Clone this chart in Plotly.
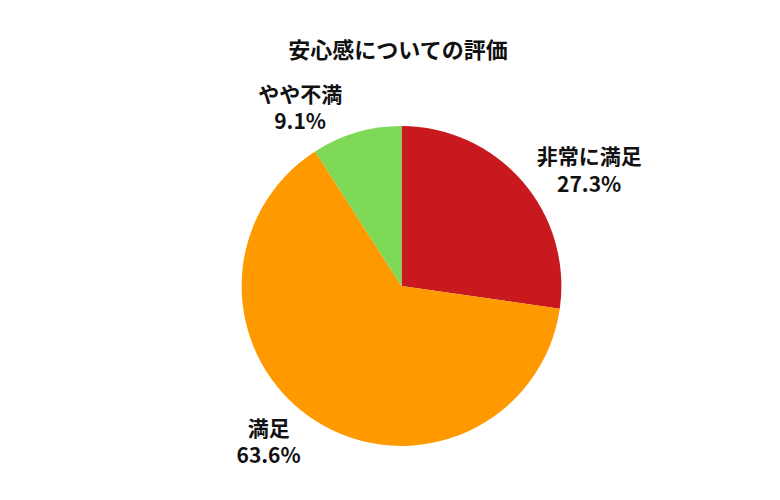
import plotly.graph_objects as go

labels = ["非常に満足", "満足", "やや不満"]
values = [3, 7, 1]
colors = ["#C8191E", "#FF9900", "#7ED957"]

fig = go.Figure(go.Pie(
    labels=labels,
    values=values,
    sort=False,
    direction="clockwise",
    rotation=0,
    marker=dict(colors=colors),
    textposition="outside",
    texttemplate="<b>%{label}<br>%{percent:.1%}</b>",
    textfont=dict(size=21, color="#111111"),
    outsidetextfont=dict(size=21, color="#111111"),
    domain=dict(x=[0.2995, 0.7095], y=[0.124, 0.764]),
    showlegend=False,
    hoverinfo="label+percent",
))

fig.update_layout(
    title=dict(text="<b>安心感についての評価</b>", x=0.5, y=0.93, xanchor="center",
               font=dict(size=22, color="#111111")),
    font=dict(family="Noto Sans CJK JP"),
    width=780, height=500,
    margin=dict(l=0, r=0, t=0, b=0),
    paper_bgcolor="white",
)

fig.write_html("out.html")
